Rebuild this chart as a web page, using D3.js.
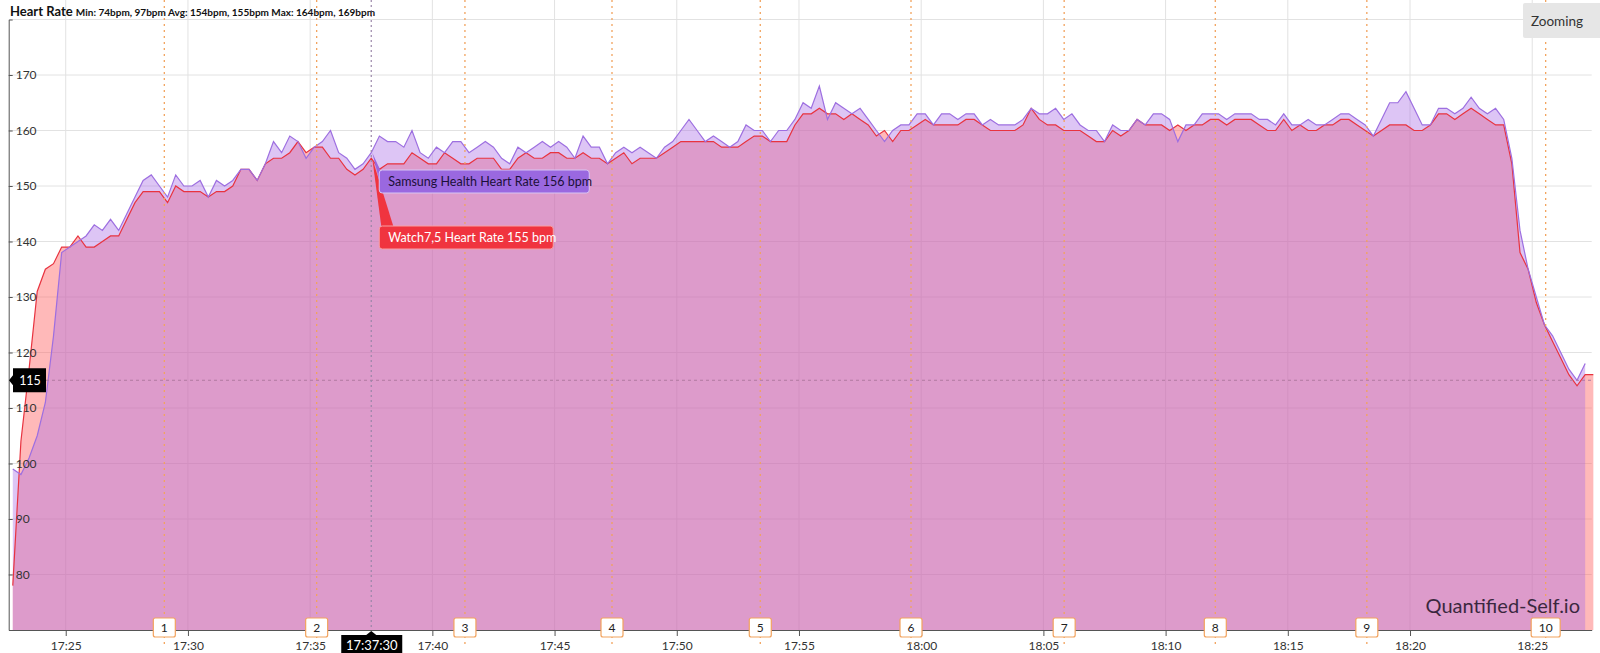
<!DOCTYPE html>
<html>
<head>
<meta charset="utf-8">
<script src="https://cdn.jsdelivr.net/npm/d3@7"></script>
<style>
  body { margin: 0; background: #fff; font-family: Lato, "Open Sans", sans-serif; }
  svg { display: block; }
  .axis text { font-size: 12px; fill: #333; font-family: Lato, sans-serif; }
  .axis path, .axis line { stroke: #555; }
</style>
</head>
<body>
<script>
// one sample every 20 s, starting at startTime
const startTime = "17:22:50";
const stepSeconds = 20;

// Watch7,5 heart rate (bpm)
const watchHR = [
  78, 104, 117, 131, 135, 136, 139, 139, 141, 139, 139, 140, 141, 141, 144,
  147, 149, 149, 149, 147, 150, 149, 149, 149, 148, 149, 149, 150, 153, 153,
  151, 154, 155, 155, 156, 158, 156, 157, 157, 155, 155, 153, 152, 153, 155,
  153, 154, 154, 154, 156, 155, 154, 154, 156, 155, 154, 154, 155, 155, 155,
  153, 153, 155, 156, 155, 155, 156, 156, 155, 155, 156, 155, 155, 154, 155,
  156, 154, 155, 155, 155, 156, 157, 158, 158, 158, 158, 158, 157, 157, 157,
  158, 159, 159, 158, 158, 158, 161, 163, 163, 164, 163, 163, 162, 163, 162,
  161, 159, 160, 158, 160, 160, 161, 162, 161, 161, 161, 161, 162, 162, 161,
  160, 160, 160, 160, 161, 164, 162, 161, 161, 160, 160, 160, 159, 158, 158,
  160, 159, 160, 162, 161, 161, 161, 160, 161, 160, 161, 161, 162, 162, 161,
  162, 162, 162, 161, 160, 160, 162, 160, 161, 160, 160, 161, 161, 162, 162,
  161, 160, 159, 160, 161, 161, 161, 160, 160, 161, 163, 163, 162, 163, 164,
  163, 162, 161, 161, 154, 138, 135, 129, 125, 122, 119, 116, 114, 116, 116
];

// Samsung Health heart rate (bpm)
const samsungHR = [
  99, 98, 101, 105, 111, 123, 138, 139, 140, 141, 143, 142, 144, 142, 145,
  148, 151, 152, 150, 148, 152, 150, 150, 151, 148, 151, 150, 151, 153, 153,
  151, 154, 158, 156, 159, 158, 155, 157, 158, 160, 156, 155, 153, 154, 156,
  159, 158, 158, 157, 160, 156, 155, 157, 156, 158, 158, 156, 157, 158, 157,
  155, 154, 157, 156, 157, 158, 157, 158, 157, 155, 159, 157, 157, 154, 156,
  157, 156, 157, 156, 155, 157, 158, 160, 162, 160, 158, 159, 158, 157, 158,
  161, 160, 160, 158, 160, 160, 162, 165, 164, 168, 162, 165, 164, 163, 164,
  162, 160, 158, 160, 161, 161, 163, 163, 161, 163, 163, 162, 163, 163, 161,
  162, 161, 161, 161, 162, 164, 163, 163, 164, 162, 163, 161, 160, 160, 158,
  161, 160, 160, 162, 161, 163, 163, 162, 158, 161, 161, 163, 163, 163, 162,
  163, 163, 163, 162, 162, 161, 163, 161, 161, 162, 161, 161, 162, 163, 163,
  162, 161, 159, 162, 165, 165, 167, 164, 161, 161, 164, 164, 163, 164, 166,
  164, 163, 164, 162, 155, 142, 135, 130, 125, 123, 120, 117, 115, 118
];

const lapTimes = ["17:29:02", "17:35:16", "17:41:20", "17:47:21", "17:53:25",
                  "17:59:35", "18:05:51", "18:12:02", "18:18:14", "18:25:33"];
const lapLabels = ["1", "2", "3", "4", "5", "6", "7", "8", "9", "10"];

const yTicks = [80, 90, 100, 110, 120, 130, 140, 150, 160, 170];
const yGrid = [80, 90, 100, 110, 120, 130, 140, 150, 160, 170, 180];
const xTickTimes = ["17:25", "17:30", "17:35", "17:40", "17:45", "17:50", "17:55",
                    "18:00", "18:05", "18:10", "18:15", "18:20", "18:25"];

const minBpm = [74, 97];
const avgBpm = [154, 155];
const maxBpm = [164, 169];

const crosshairTime = "17:37:30";
const cursorValue = 115;

const width = 1600, height = 653;
const plot = {left: 8.7, right: 1591.7, top: 19.5, bottom: 630};

const parseTime = d3.timeParse("%H:%M:%S");
const parseHM = d3.timeParse("%H:%M");
const t0 = parseTime(startTime);
const timeAt = (i) => new Date(t0.getTime() + i * stepSeconds * 1000);

const svg = d3.select('body').append('svg')
  .attr('width', width)
  .attr('height', height);

// Scales
const x = d3.scaleTime()
  .domain([parseTime("17:22:40"), parseTime("18:27:26")])
  .range([plot.left, plot.right]);
const y = d3.scaleLinear().domain([70, 180]).range([plot.bottom, plot.top]);

// Grid
svg.append('g').selectAll('line').data(yGrid).join('line')
  .attr('x1', plot.left).attr('x2', plot.right)
  .attr('y1', d => y(d)).attr('y2', d => y(d))
  .attr('stroke', '#e2e2e2');
svg.append('g').selectAll('line').data(xTickTimes).join('line')
  .attr('x1', d => x(parseHM(d))).attr('x2', d => x(parseHM(d)))
  .attr('y1', 0).attr('y2', plot.bottom)
  .attr('stroke', '#e2e2e2');

// Areas + lines
const area = d3.area()
  .x((d, i) => x(timeAt(i)))
  .y0(y(70))
  .y1(d => y(d));
const line = d3.line()
  .x((d, i) => x(timeAt(i)))
  .y(d => y(d));

svg.append('path').datum(watchHR)
  .attr('d', area).attr('fill', 'rgba(255,99,99,0.45)');
svg.append('path').datum(samsungHR)
  .attr('d', area).attr('fill', 'rgba(170,110,230,0.4)');
svg.append('path').datum(watchHR)
  .attr('d', line).attr('fill', 'none').attr('stroke', '#e8333f').attr('stroke-width', 1.2);
svg.append('path').datum(samsungHR)
  .attr('d', line).attr('fill', 'none').attr('stroke', '#9d6fe0').attr('stroke-width', 1.2);

// Axes
const xaxis = d3.axisBottom(x)
  .tickValues(xTickTimes.map(parseHM))
  .tickFormat(d3.timeFormat("%H:%M"))
  .tickSize(6).tickSizeOuter(0).tickPadding(5);
svg.append('g').attr('class', 'axis')
  .attr('transform', `translate(0,${plot.bottom})`)
  .call(xaxis);

const yaxis = d3.axisRight(y).tickValues(yTicks).tickSize(4).tickSizeOuter(4).tickPadding(3);
svg.append('g').attr('class', 'axis')
  .attr('transform', `translate(${plot.left},0)`)
  .call(yaxis);

// Laps
const laps = svg.append('g');
laps.selectAll('line').data(lapTimes).join('line')
  .attr('x1', d => x(parseTime(d))).attr('x2', d => x(parseTime(d)))
  .attr('y1', 0).attr('y2', 645)
  .attr('stroke', '#f2a35e').attr('stroke-width', 1.3).attr('stroke-dasharray', '2,4');
const lapBox = laps.selectAll('g.lap').data(lapTimes).join('g').attr('class', 'lap')
  .attr('transform', d => `translate(${x(parseTime(d))},0)`);
lapBox.append('rect')
  .attr('x', (d, i) => lapLabels[i].length > 1 ? -14.5 : -11)
  .attr('width', (d, i) => lapLabels[i].length > 1 ? 29 : 22)
  .attr('y', 618).attr('height', 19).attr('rx', 2)
  .attr('fill', '#fff').attr('stroke', '#f2a35e').attr('stroke-width', 1.2);
lapBox.append('text')
  .attr('y', 632).attr('text-anchor', 'middle')
  .attr('font-size', 12).attr('fill', '#222')
  .text((d, i) => lapLabels[i]);

// Cursor value line
svg.append('line')
  .attr('x1', 46).attr('x2', plot.right)
  .attr('y1', y(cursorValue)).attr('y2', y(cursorValue))
  .attr('stroke', '#b07aa0').attr('stroke-dasharray', '3,3');
svg.append('path')
  .attr('d', `M9,${y(cursorValue)}L13,${y(cursorValue) - 5}V${y(cursorValue) - 12}H46V${y(cursorValue) + 12}H13V${y(cursorValue) + 5}Z`)
  .attr('fill', '#000');
svg.append('text')
  .attr('x', 30).attr('y', y(cursorValue) + 4.5).attr('text-anchor', 'middle')
  .attr('font-size', 12.5).attr('fill', '#fff').text(cursorValue);

// Crosshair
const cx = x(parseTime(crosshairTime));
const ci = Math.round((parseTime(crosshairTime) - t0) / 1000 / stepSeconds);
svg.append('line')
  .attr('x1', cx).attr('x2', cx).attr('y1', 0).attr('y2', plot.bottom)
  .attr('stroke', '#9a86a8').attr('stroke-width', 1.2).attr('stroke-dasharray', '2,3');
svg.append('path')
  .attr('d', `M${cx},${plot.bottom + 1}L${cx + 5},635H${cx + 31}V660H${cx - 30}V635H${cx - 5}Z`)
  .attr('fill', '#000');
svg.append('text')
  .attr('x', cx + 0.5).attr('y', 650).attr('text-anchor', 'middle')
  .attr('font-size', 13).attr('fill', '#fff').text(crosshairTime);

// Tooltips
const wy = y(watchHR[ci]), sy = y(samsungHR[ci]);
svg.append('path')
  .attr('d', `M${cx + 1},${wy}L${cx + 10},226H${cx + 22}Z`)
  .attr('fill', '#f0343f');
svg.append('rect')
  .attr('x', cx + 8).attr('y', 226).attr('width', 174).attr('height', 23).attr('rx', 3)
  .attr('fill', '#f0343f').attr('stroke', '#f7a0a4');
svg.append('text')
  .attr('x', cx + 17).attr('y', 241.5).attr('font-size', 12.5).attr('fill', '#fff')
  .text(`Watch7,5 Heart Rate ${watchHR[ci]} bpm`);

svg.append('path')
  .attr('d', `M${cx + 1},${sy}L${cx + 9},170V184Z`)
  .attr('fill', '#9a68e0');
svg.append('rect')
  .attr('x', cx + 8).attr('y', 170).attr('width', 210).attr('height', 23).attr('rx', 3)
  .attr('fill', '#9a68e0').attr('stroke', '#d8c6f4');
svg.append('text')
  .attr('x', cx + 17).attr('y', 185.5).attr('font-size', 12.5).attr('fill', '#1c1038')
  .text(`Samsung Health Heart Rate ${samsungHR[ci]} bpm`);

// Header
const header = svg.append('text').attr('x', 10).attr('y', 16).attr('fill', '#111').attr('font-weight', 700);
header.append('tspan').attr('font-size', 13).text('Heart Rate ');
header.append('tspan').attr('font-size', 10)
  .text(`Min: ${minBpm.map(d => d + 'bpm').join(', ')} Avg: ${avgBpm.map(d => d + 'bpm').join(', ')} Max: ${maxBpm.map(d => d + 'bpm').join(', ')}`);

// Zooming button
svg.append('rect').attr('x', 1523).attr('y', 3).attr('width', 90).attr('height', 35).attr('rx', 2)
  .attr('fill', '#e6e6e6');
svg.append('text').attr('x', 1557).attr('y', 26).attr('text-anchor', 'middle')
  .attr('font-size', 13.5).attr('fill', '#333').text('Zooming');

// Watermark
svg.append('text').attr('x', 1580).attr('y', 613).attr('text-anchor', 'end')
  .attr('font-size', 20).attr('fill', '#2a1a30').attr('opacity', 0.9).text('Quantified-Self.io');
</script>
</body>
</html>
